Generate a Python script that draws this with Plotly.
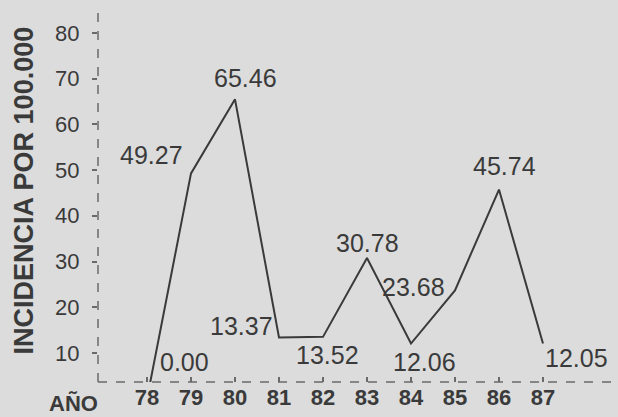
import plotly.graph_objects as go

years = [78, 79, 80, 81, 82, 83, 84, 85, 86, 87]
incidence = [0.00, 49.27, 65.46, 13.37, 13.52, 30.78, 12.06, 23.68, 45.74, 12.05]
value_labels = ["0.00", "49.27", "65.46", "13.37", "13.52", "30.78", "12.06", "23.68", "45.74", "12.05"]
y_ticks = [10, 20, 30, 40, 50, 60, 70, 80]
x_tick_labels = ["78", "79", "80", "81", "82", "83", "84", "85", "86", "87"]

Y_MIN, Y_MAX = 3.65, 85

# label placement (style): anchor and pixel shifts per point
lab_anchor = ["center", "right", "center", "right", "center", "center", "center", "right", "center", "left"]
lab_dx = [37, -6, 10, -4, 4, 0, 14, -8, 6, 0]
lab_dy = [20, 18, 21, 12, -18, 15, -18, 3, 24, -14]

BG = "#dcdcdc"
INK = "#3a3a3a"
AXC = "#6a6a6a"
FONT = "Liberation Sans, Arial, Helvetica, sans-serif"

fig = go.Figure()
fig.add_trace(go.Scatter(
    x=years, y=incidence, mode="lines",
    line=dict(color=INK, width=2),
    hoverinfo="x+y", showlegend=False,
))

annotations = []
for x, y, t, a, dx, dy in zip(years, incidence, value_labels, lab_anchor, lab_dx, lab_dy):
    if y < Y_MIN:
        yref, yy = "y domain", 0
    else:
        yref, yy = "y", y
    annotations.append(dict(
        x=x, y=yy, xref="x", yref=yref, text=t, showarrow=False,
        xanchor=a, yanchor="middle", xshift=dx, yshift=dy,
        font=dict(family=FONT, size=25, color=INK),
    ))

annotations.append(dict(
    x=0, y=0.515, xref="paper", yref="paper", text="<b>INCIDENCIA POR 100.000</b>",
    showarrow=False, textangle=-90, xanchor="center", yanchor="middle", xshift=-74,
    font=dict(family=FONT, size=27, color=INK),
))
annotations.append(dict(
    x=0, y=0, xref="paper", yref="paper", text="<b>AÑO</b>",
    showarrow=False, xanchor="right", yanchor="middle", xshift=2, yshift=-21,
    font=dict(family=FONT, size=22, color=INK),
))

shapes = [
    dict(type="line", xref="paper", yref="paper", x0=0, x1=0, y0=0, y1=1,
         line=dict(color=AXC, width=1.5, dash="dash")),
    dict(type="line", xref="paper", yref="paper", x0=0, x1=1, y0=0, y1=0,
         line=dict(color=AXC, width=1.5, dash="dash")),
]

fig.update_layout(
    width=618, height=417,
    margin=dict(l=98, r=0, t=10, b=35),
    paper_bgcolor=BG, plot_bgcolor=BG,
    annotations=annotations, shapes=shapes,
    xaxis=dict(
        range=[76.886, 88.705], tickvals=years, ticktext=x_tick_labels,
        showgrid=False, zeroline=False, showline=False,
        ticks="inside", ticklen=5, tickwidth=1.5, tickcolor=AXC,
        ticklabelstandoff=0, automargin=False,
        tickfont=dict(family=FONT, size=22, color=INK, weight="bold"),
    ),
    yaxis=dict(
        range=[Y_MIN, Y_MAX], tickvals=y_ticks,
        showgrid=False, zeroline=False, showline=False,
        ticks="outside", ticklen=5, tickwidth=1.5, tickcolor=AXC,
        ticklabelstandoff=8, automargin=False,
        tickfont=dict(family=FONT, size=22, color=INK),
    ),
)

fig.write_html(
    "out.html",
    config={"displayModeBar": False},
    post_script="document.body.style.margin='0';document.body.style.padding='0';"
                "document.body.style.overflow='hidden';"
                "document.documentElement.style.background='" + BG + "';",
)
